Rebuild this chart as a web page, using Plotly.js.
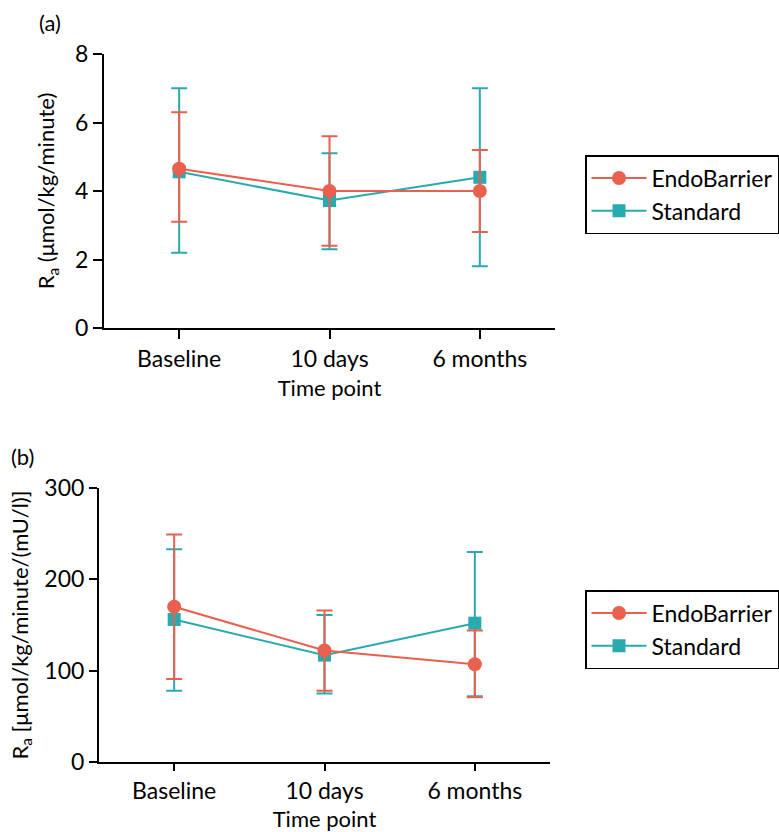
<!DOCTYPE html>
<html>
<head>
<meta charset="utf-8">
<script src="https://cdn.plot.ly/plotly-3.0.1.min.js"></script>
<style>
  html, body { margin: 0; padding: 0; background: #fff; }
  #chart { width: 779px; height: 832px; }
</style>
</head>
<body>
<div id="chart"></div>
<script>
// Time points shared by both panels
const timePoints = ['Baseline', '10 days', '6 months'];

// Panel (a): rate of appearance, µmol/kg/minute
const endoA      = [4.65, 4.0, 4.0];
const endoAHigh  = [6.3, 5.6, 5.2];
const endoALow   = [3.1, 2.4, 2.8];
const stdA       = [4.56, 3.72, 4.4];
const stdAHigh   = [7.0, 5.1, 7.0];
const stdALow    = [2.2, 2.3, 1.8];

// Panel (b): rate of appearance per insulin, µmol/kg/minute/(mU/l)
const endoB      = [170, 122, 107];
const endoBHigh  = [249, 166, 144];
const endoBLow   = [91, 78, 71];
const stdB       = [156, 117, 152];
const stdBHigh   = [233, 161, 230];
const stdBLow    = [78, 75, 72];

const RED  = '#E9604E';
const TEAL = '#28AAAF';
const FONT = 'Lato, "Open Sans", sans-serif';

function errs(mid, hi, lo) {
  return {
    plus: mid.map((m, i) => hi[i] - m),
    minus: mid.map((m, i) => m - lo[i])
  };
}

function series(name, y, hi, lo, color, symbol, xa, ya, legend, rank) {
  const e = errs(y, hi, lo);
  return {
    type: 'scatter',
    mode: 'lines+markers',
    name: name,
    x: timePoints,
    y: y,
    xaxis: xa,
    yaxis: ya,
    legend: legend,
    legendrank: rank,
    line: { color: color, width: 2 },
    marker: { color: color, size: symbol === 'circle' ? 14 : 13, symbol: symbol },
    error_y: {
      type: 'data', symmetric: false,
      array: e.plus, arrayminus: e.minus,
      color: color, thickness: 2, width: 8
    }
  };
}

// Standard drawn first so the EndoBarrier markers sit on top
const data = [
  series('Standard', stdA, stdAHigh, stdALow, TEAL, 'square', 'x', 'y', 'legend', 2),
  series('EndoBarrier', endoA, endoAHigh, endoALow, RED, 'circle', 'x', 'y', 'legend', 1),
  series('Standard', stdB, stdBHigh, stdBLow, TEAL, 'square', 'x2', 'y2', 'legend2', 2),
  series('EndoBarrier', endoB, endoBHigh, endoBLow, RED, 'circle', 'x2', 'y2', 'legend2', 1)
];

const txt = { family: FONT, size: 22, color: '#000' };
const tickTxt = { family: FONT, size: 23, color: '#000' };
const legendTxt = { family: FONT, size: 23, color: '#000' };

const xCommon = {
  type: 'category',
  range: [-0.5, 2.5],
  showline: true, linecolor: '#000', linewidth: 2,
  ticks: 'outside', ticklen: 9, tickwidth: 2, tickcolor: '#000',
  showgrid: false, zeroline: false,
  tickfont: tickTxt,
  fixedrange: true
};
const yCommon = {
  showline: true, linecolor: '#000', linewidth: 2,
  ticks: 'outside', ticklen: 9, tickwidth: 2, tickcolor: '#000',
  showgrid: false, zeroline: false,
  tickfont: tickTxt,
  fixedrange: true
};

const legendCommon = {
  xanchor: 'left', yanchor: 'top',
  bordercolor: '#000', borderwidth: 1.5,
  bgcolor: '#fff',
  font: legendTxt,
  itemwidth: 55,
  traceorder: 'normal',
  tracegroupgap: 0
};

const layout = {
  width: 779, height: 832,
  margin: { l: 0, r: 0, t: 0, b: 0 },
  paper_bgcolor: '#fff', plot_bgcolor: '#fff',
  font: txt,
  xaxis: Object.assign({}, xCommon, {
    domain: [104 / 779, 555 / 779], anchor: 'y',
    title: { text: 'Time point', font: txt, standoff: 10 }
  }),
  yaxis: Object.assign({}, yCommon, {
    domain: [1 - 328 / 832, 1 - 54 / 832], anchor: 'x',
    range: [0, 8], tickvals: [0, 2, 4, 6, 8],
    title: { text: 'R<sub>a</sub> (μmol/kg/minute)', font: txt, standoff: 14 }
  }),
  xaxis2: Object.assign({}, xCommon, {
    domain: [99 / 779, 550 / 779], anchor: 'y2',
    ticklen: 7,
    title: { text: 'Time point', font: txt, standoff: 12 }
  }),
  yaxis2: Object.assign({}, yCommon, {
    domain: [1 - 762 / 832, 1 - 488 / 832], anchor: 'x2',
    ticklen: 8,
    range: [0, 300], tickvals: [0, 100, 200, 300],
    title: { text: 'R<sub>a</sub> [μmol/kg/minute/(mU/l)]', font: txt, standoff: 10 }
  }),
  legend: Object.assign({}, legendCommon, { x: 585 / 779, y: 1 - 155 / 832 }),
  legend2: Object.assign({}, legendCommon, { x: 585 / 779, y: 1 - 590 / 832 }),
  annotations: [
    { text: '(a)', xref: 'paper', yref: 'paper', x: 37 / 779, y: 1 - 22 / 832,
      xanchor: 'left', yanchor: 'middle', showarrow: false, font: txt },
    { text: '(b)', xref: 'paper', yref: 'paper', x: 9 / 779, y: 1 - 456 / 832,
      xanchor: 'left', yanchor: 'middle', showarrow: false, font: txt }
  ]
};

Plotly.newPlot('chart', data, layout, { displayModeBar: false, staticPlot: true });
</script>
</body>
</html>
